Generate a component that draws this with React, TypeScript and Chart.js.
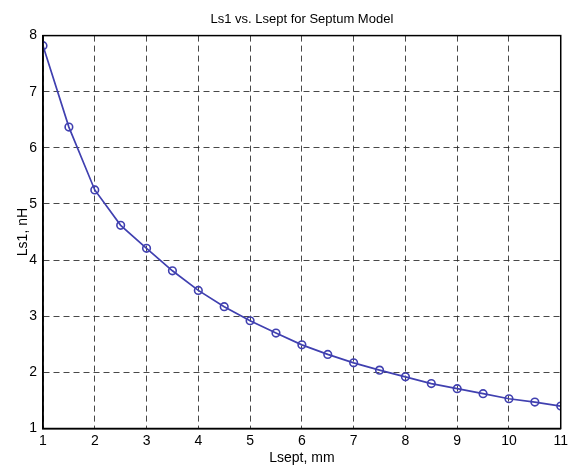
import React, { useEffect, useRef } from "react";
import { Chart, registerables } from "chart.js";

Chart.register(...registerables);

const lsept = [1, 1.5, 2, 2.5, 3, 3.5, 4, 4.5, 5, 5.5, 6, 6.5, 7, 7.5, 8, 8.5, 9, 9.5, 10, 10.5, 11];
const ls1 = [7.82, 6.37, 5.25, 4.62, 4.21, 3.81, 3.46, 3.17, 2.92, 2.70, 2.49, 2.32, 2.17, 2.04, 1.92, 1.80, 1.71, 1.62, 1.53, 1.47, 1.40];
const titleText = "Ls1 vs. Lsept for Septum Model";
const xTitle = "Lsept, mm";
const yTitle = "Ls1, nH";

const FONT = "'Liberation Sans', Arial, Helvetica, sans-serif";
const LINE = "#4040b0";

const boxPlugin = {
  id: "boxPlugin",
  afterDraw(chart: any) {
    const { ctx, chartArea } = chart;
    ctx.save();
    ctx.strokeStyle = "#000";
    ctx.lineWidth = 1.5;
    ctx.setLineDash([]);
    ctx.strokeRect(chartArea.left, chartArea.top, chartArea.right - chartArea.left, chartArea.bottom - chartArea.top);
    ctx.restore();
  },
};

export default function App() {
  const ref = useRef<HTMLCanvasElement>(null);
  useEffect(() => {
    document.body.style.margin = "0";
    const chart = new Chart(ref.current!, {
      type: "line",
      data: {
        datasets: [
          {
            data: lsept.map((x, i) => ({ x, y: ls1[i] })),
            borderColor: LINE,
            borderWidth: 1.7,
            pointRadius: 3.8,
            pointBorderWidth: 1.6,
            pointBorderColor: LINE,
            pointBackgroundColor: "rgba(0,0,0,0)",
            tension: 0,
            fill: false,
          },
        ],
      },
      options: {
        animation: false,
        responsive: false,
        layout: { padding: { left: 0, right: 8.5, top: 0, bottom: 0 } },
        plugins: {
          legend: { display: false },
          tooltip: { enabled: false },
          title: {
            display: true,
            text: titleText,
            fullSize: false,
            color: "#000",
            font: { family: FONT, size: 13, weight: "normal" },
            padding: { top: 12, bottom: 8 },
          },
        },
        scales: {
          x: {
            type: "linear",
            min: 1,
            max: 11,
            afterFit: (s: any) => { s.height = 38.5; },
            ticks: { stepSize: 1, color: "#000", padding: 4, font: { family: FONT, size: 14 } },
            grid: { color: "rgba(40,40,40,0.85)", lineWidth: 1, drawTicks: false },
            border: { display: true, color: "#000", width: 1.5, dash: [6, 4] },
            title: { display: true, text: xTitle, color: "#000", font: { family: FONT, size: 14 }, padding: { top: 0, bottom: 0 } },
          },
          y: {
            type: "linear",
            min: 1,
            max: 8,
            afterFit: (s: any) => { s.width = 43; },
            ticks: { stepSize: 1, color: "#000", padding: 6, font: { family: FONT, size: 14 } },
            grid: { color: "rgba(40,40,40,0.85)", lineWidth: 1, drawTicks: false },
            border: { display: true, color: "#000", width: 1.5, dash: [6, 4] },
            title: { display: true, text: yTitle, color: "#000", font: { family: FONT, size: 14 }, padding: { top: 15, bottom: 0 } },
          },
        },
      },
      plugins: [boxPlugin],
    } as any);
    return () => chart.destroy();
  }, []);
  return (
    <div style={{ width: 572, height: 467 }}>
      <canvas ref={ref} width={572} height={467} style={{ display: "block", width: 572, height: 467 }} />
    </div>
  );
}
